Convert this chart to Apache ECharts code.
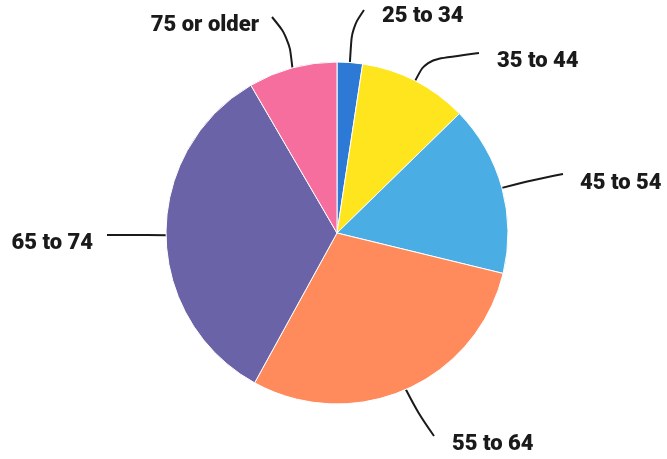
<!DOCTYPE html>
<html>
<head>
<meta charset="utf-8">
<script src="https://cdn.jsdelivr.net/npm/echarts@6/dist/echarts.min.js"></script>
<style>html,body{margin:0;padding:0;background:#fff}#c{width:667px;height:459px}</style>
</head>
<body>
<div id="c"></div>
<script>
const categories = ['25 to 34', '35 to 44', '45 to 54', '55 to 64', '65 to 74', '75 or older'];
const values = [2.4, 10.3, 16.1, 29.2, 33.6, 8.4];
const colors = ['#2c79d6', '#ffe51e', '#4aaee4', '#ff8b5d', '#6b63a7', '#f56e9e'];

// label placement (layout only): text anchor, alignment, line bend and end
const labelPlace = {
  '25 to 34':    { x: 382, y: 16,  align: 'left',  bend: [352, 28],  end: [364, 10] },
  '35 to 44':    { x: 497, y: 61,  align: 'left',  bend: [426, 60],  end: [479, 53] },
  '45 to 54':    { x: 580, y: 183, align: 'left',  bend: [533, 180], end: [563, 174] },
  '55 to 64':    { x: 452, y: 444, align: 'left',  bend: [418, 413], end: [434, 436] },
  '65 to 74':    { x: 93,  y: 243, align: 'right', bend: [140, 235], end: [107, 235] },
  '75 or older': { x: 259, y: 25,  align: 'right', bend: [289, 38],  end: [272, 17] }
};

const chart = echarts.init(document.getElementById('c'), null, { renderer: 'canvas' });
chart.setOption({
  animation: false,
  backgroundColor: '#fff',
  series: [{
    type: 'pie',
    center: [337, 233],
    radius: 171,
    startAngle: 90,
    clockwise: true,
    data: categories.map((c, i) => ({ name: c, value: values[i], itemStyle: { color: colors[i] } })),
    itemStyle: { borderColor: '#ffffff', borderWidth: 1 },
    label: {
      show: true,
      position: 'outside',
      formatter: '{b}',
      fontFamily: 'Roboto',
      fontWeight: 900,
      fontSize: 22,
      color: '#1a1a1a'
    },
    labelLine: {
      show: true,
      length: 20,
      length2: 20,
      smooth: 0.35,
      lineStyle: { color: '#1a1a1a', width: 2 }
    },
    labelLayout: function (params) {
      const name = categories[params.dataIndex];
      const p = labelPlace[name];
      const start = params.labelLinePoints ? params.labelLinePoints[0] : [337, 233];
      return {
        x: p.x,
        y: p.y,
        align: p.align,
        verticalAlign: 'middle',
        labelLinePoints: [start, p.bend, p.end]
      };
    }
  }]
});
</script>
</body>
</html>
